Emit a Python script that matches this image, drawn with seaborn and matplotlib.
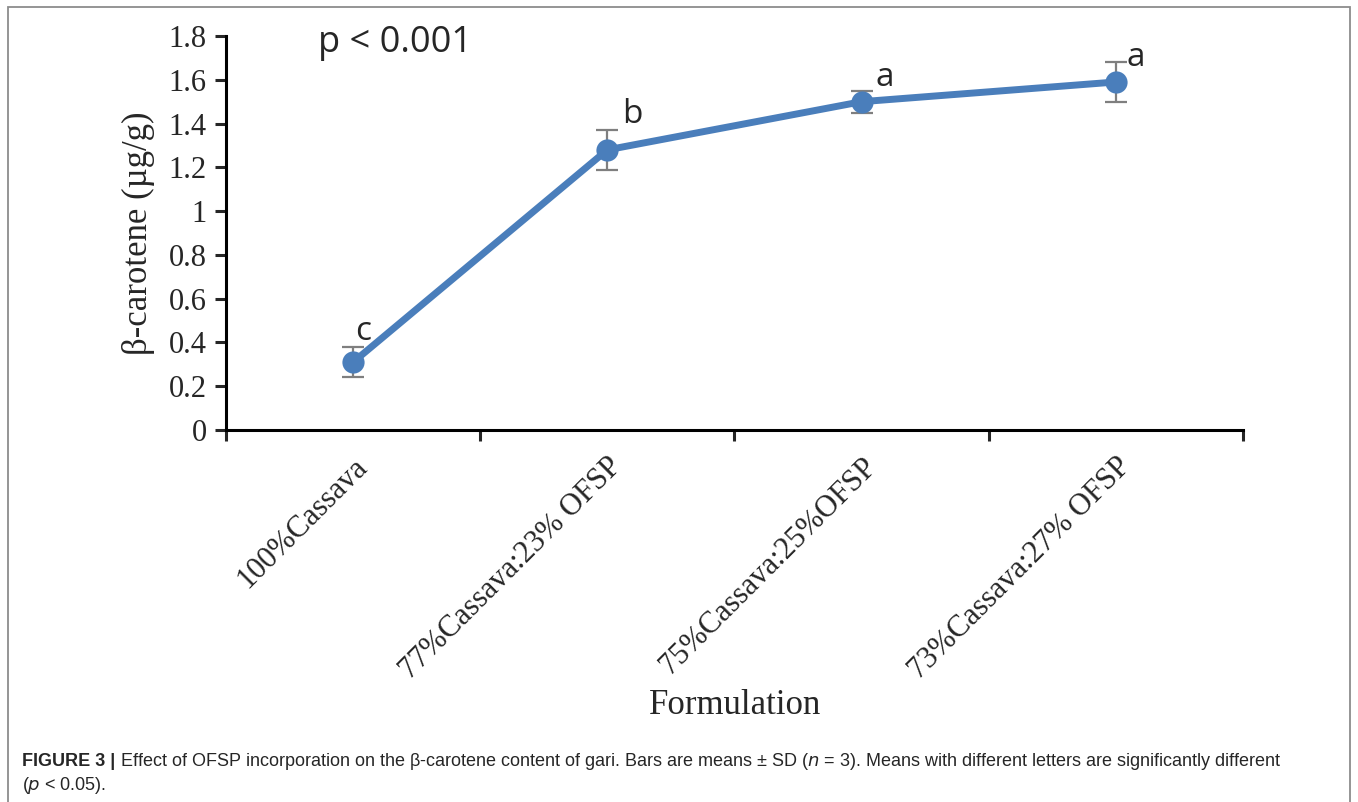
import numpy as np
import pandas as pd
import matplotlib
matplotlib.use("Agg")
import matplotlib.pyplot as plt
import seaborn as sns
from matplotlib.patches import Rectangle

# ---- data ----
formulations = ["100%Cassava", "77%Cassava:23% OFSP", "75%Cassava:25%OFSP", "73%Cassava:27% OFSP"]
beta_carotene = [0.31, 1.28, 1.50, 1.59]
sd = [0.07, 0.09, 0.05, 0.09]
letters = ["c", "b", "a", "a"]

df = pd.DataFrame({"pos": np.arange(len(formulations)), "value": beta_carotene, "sd": sd})

sns.set_style("white")
plt.rcParams["font.family"] = ["Liberation Serif", "DejaVu Serif"]

fig = plt.figure(figsize=(13.58, 8.02), dpi=100)
ax = fig.add_axes([0.1664, 0.4638, 0.7489, 0.4913])

blue = "#4a7ebb"
ax.errorbar(df["pos"], df["value"], yerr=df["sd"], fmt="none", ecolor="#7f7f7f",
            elinewidth=1.6, capsize=8, capthick=1.6, zorder=2)
sns.lineplot(data=df, x="pos", y="value", ax=ax, color=blue, linewidth=5,
             marker="o", markersize=16, markeredgewidth=0, zorder=3)

# letters
sans = ["Open Sans", "DejaVu Sans"]
offsets = [(0.04, 0.14), (0.1, 0.16), (0.09, 0.11), (0.08, 0.11)]
for i, (lt, (dx, dy)) in enumerate(zip(letters, offsets)):
    ax.text(df["pos"][i] + dx, df["value"][i] + dy, lt, fontsize=24,
            family=sans, ha="center", va="center")

ax.text(-0.14, 1.77, "p < 0.001", fontsize=26, family=sans, ha="left", va="center")

ax.set_xlim(-0.5, 3.5)
ax.set_ylim(0, 1.8)
ax.set_yticks(np.arange(0, 1.81, 0.2))
ax.set_yticklabels(["0", "0.2", "0.4", "0.6", "0.8", "1", "1.2", "1.4", "1.6", "1.8"])
ax.set_xticks(df["pos"])
ax.set_xticklabels(formulations, rotation=45, ha="right", rotation_mode="anchor")
ax.set_xticks(np.arange(-0.5, 3.6, 1.0), minor=True)

ax.tick_params(axis="x", which="major", length=0, pad=16, labelsize=22)
ax.tick_params(axis="x", which="minor", length=8, width=2.2, direction="out", bottom=True)
ax.tick_params(axis="y", length=8, width=2.2, direction="out", left=True, labelsize=22, pad=6)

for s in ["top", "right"]:
    ax.spines[s].set_visible(False)
for s in ["left", "bottom"]:
    ax.spines[s].set_linewidth(2.2)
    ax.spines[s].set_color("black")

ax.set_xlabel("")
ax.set_ylabel("β-carotene (µg/g)", fontsize=25, labelpad=10)
fig.text(735 / 1358, 1 - 705 / 802, "Formulation", fontsize=25, ha="center", va="center")

# frame around figure panel
fig.patches.append(Rectangle((8 / 1358, -0.02), (1350 - 8) / 1358, 1.02 - 7 / 802,
                             transform=fig.transFigure, fill=False,
                             edgecolor="#8c8c8c", linewidth=1.3))

# caption
cap_font = ["Liberation Sans", "DejaVu Sans"]
t1 = fig.text(22 / 1358, 1 - 762 / 802, "FIGURE 3 |", fontsize=13, weight="bold",
              family=cap_font, va="center", ha="left")
fig.canvas.draw()
bb = t1.get_window_extent()
fig.text((bb.x1 + 5) / 1358, 1 - 762 / 802,
         "Effect of OFSP incorporation on the β-carotene content of gari. Bars are means ± SD ($\\it{n}$ = 3). "
         "Means with different letters are significantly different",
         fontsize=13, family=cap_font, va="center", ha="left")
fig.text(22 / 1358, 1 - 786 / 802, "($\\it{p}$ < 0.05).", fontsize=13, family=cap_font,
         va="center", ha="left")

fig.savefig("out.png", dpi=100)
